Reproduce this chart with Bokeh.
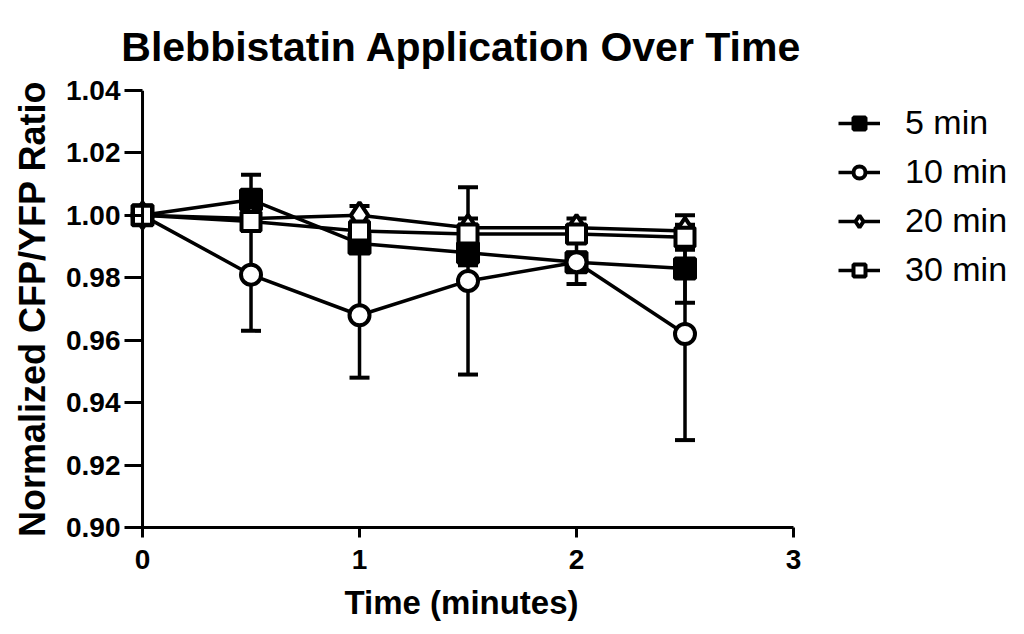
from bokeh.plotting import figure
from bokeh.models import (Range1d, Whisker, TeeHead, ColumnDataSource, Legend,
                          LegendItem, FixedTicker, NumeralTickFormatter, Span)
from bokeh.embed import file_html
from bokeh.resources import INLINE

# ---- data ----
time_min = [0, 0.5, 1, 1.5, 2, 2.5]
series_names = ["5 min", "10 min", "20 min", "30 min"]
ratio_5 = [1.000, 1.005, 0.991, 0.988, 0.985, 0.983]
err_5 = [0.0, 0.008, 0.003, 0.004, 0.003, 0.011]
ratio_10 = [1.000, 0.981, 0.968, 0.979, 0.985, 0.962]
err_10 = [0.0, 0.018, 0.020, 0.030, 0.007, 0.034]
ratio_20 = [1.000, 0.999, 1.000, 0.996, 0.996, 0.995]
err_20 = [0.0, 0.003, 0.003, 0.003, 0.003, 0.005]
ratio_30 = [1.000, 0.998, 0.995, 0.994, 0.994, 0.993]
err_30 = [0.0, 0.003, 0.003, 0.003, 0.002, 0.004]
y_ticks = [0.90, 0.92, 0.94, 0.96, 0.98, 1.00, 1.02, 1.04]
x_ticks = [0, 1, 2, 3]

FONT = "Liberation Sans"

p = figure(frame_width=664, frame_height=437,
           x_range=Range1d(-0.06, 3), y_range=Range1d(0.90, 1.04),
           output_backend="svg", toolbar_location=None,
           min_border_left=129, min_border_right=200,
           min_border_top=90, min_border_bottom=100,
           title="Blebbistatin Application Over Time")
p.outline_line_color = None
p.grid.visible = False
p.background_fill_color = "white"

p.title.text_font = FONT
p.title.text_font_size = "41px"
p.title.text_font_style = "bold"
p.title.text_color = "black"
p.title.align = "center"
p.title.vertical_align = "top"
p.title.standoff = 38

p.yaxis.ticker = FixedTicker(ticks=y_ticks)
p.yaxis.formatter = NumeralTickFormatter(format="0.00")
p.xaxis.ticker = FixedTicker(ticks=x_ticks)
for ax in (p.xaxis, p.yaxis):
    ax.axis_line_width = 3
    ax.major_tick_line_width = 3
    ax.minor_tick_line_color = None
    ax.major_label_text_font = FONT
    ax.major_label_text_font_style = "bold"
    ax.major_label_text_font_size = "28px"
    ax.major_label_text_color = "black"
    ax.axis_label_text_font = FONT
    ax.axis_label_text_font_style = "bold"
    ax.axis_label_text_color = "black"
p.xaxis.major_tick_out = 10
p.xaxis.major_tick_in = 0
p.xaxis.axis_label = "Time (minutes)"
p.xaxis.axis_label_text_font_size = "33px"
p.xaxis.major_label_standoff = 12
p.xaxis.axis_label_standoff = 12
# y axis: the visible spine sits at x = 0 (span), ticks reach it from the frame edge
p.yaxis.axis_line_color = None
p.yaxis.major_tick_out = 5
p.yaxis.major_tick_in = 13
p.yaxis.axis_label = "Normalized CFP/YFP Ratio"
p.yaxis.axis_label_text_font_size = "36px"
p.yaxis.major_label_standoff = 4
p.yaxis.axis_label_standoff = 10
p.add_layout(Span(location=0, dimension="height", line_color="black", line_width=3))

styles = [
    dict(marker="square", fill_color="black", size=20),
    dict(marker="circle", fill_color="white", size=20),
    dict(marker="diamond", fill_color="white", size=26),
    dict(marker="square", fill_color="white", size=19),
]
ratios = [ratio_5, ratio_10, ratio_20, ratio_30]
errs = [err_5, err_10, err_20, err_30]

items = []
for name, r, e, st in zip(series_names, ratios, errs, styles):
    src = ColumnDataSource(dict(
        x=time_min, y=r,
        upper=[a + b for a, b in zip(r, e)],
        lower=[a - b for a, b in zip(r, e)]))
    w = Whisker(base="x", upper="upper", lower="lower", source=src,
                line_width=3.5, line_color="black",
                upper_head=TeeHead(size=20, line_width=4, line_color="black"),
                lower_head=TeeHead(size=20, line_width=4, line_color="black"))
    p.add_layout(w)
    lr = p.line("x", "y", source=src, line_width=3.5, line_color="black")
    mr = p.scatter("x", "y", source=src, marker=st["marker"], size=st["size"],
                   fill_color=st["fill_color"], line_color="black", line_width=4)
    items.append(LegendItem(label=name, renderers=[lr, mr]))

legend = Legend(items=items, location=(45, 238))
legend.padding = 0
legend.margin = 0
legend.border_line_color = None
legend.background_fill_alpha = 0
legend.glyph_width = 42
legend.glyph_height = 30
legend.label_height = 30
legend.spacing = 10
legend.label_standoff = 25
legend.label_text_font = FONT
legend.label_text_font_size = "34px"
legend.label_text_color = "black"
p.add_layout(legend, "right")

open("out.html", "w").write(file_html(p, INLINE))
